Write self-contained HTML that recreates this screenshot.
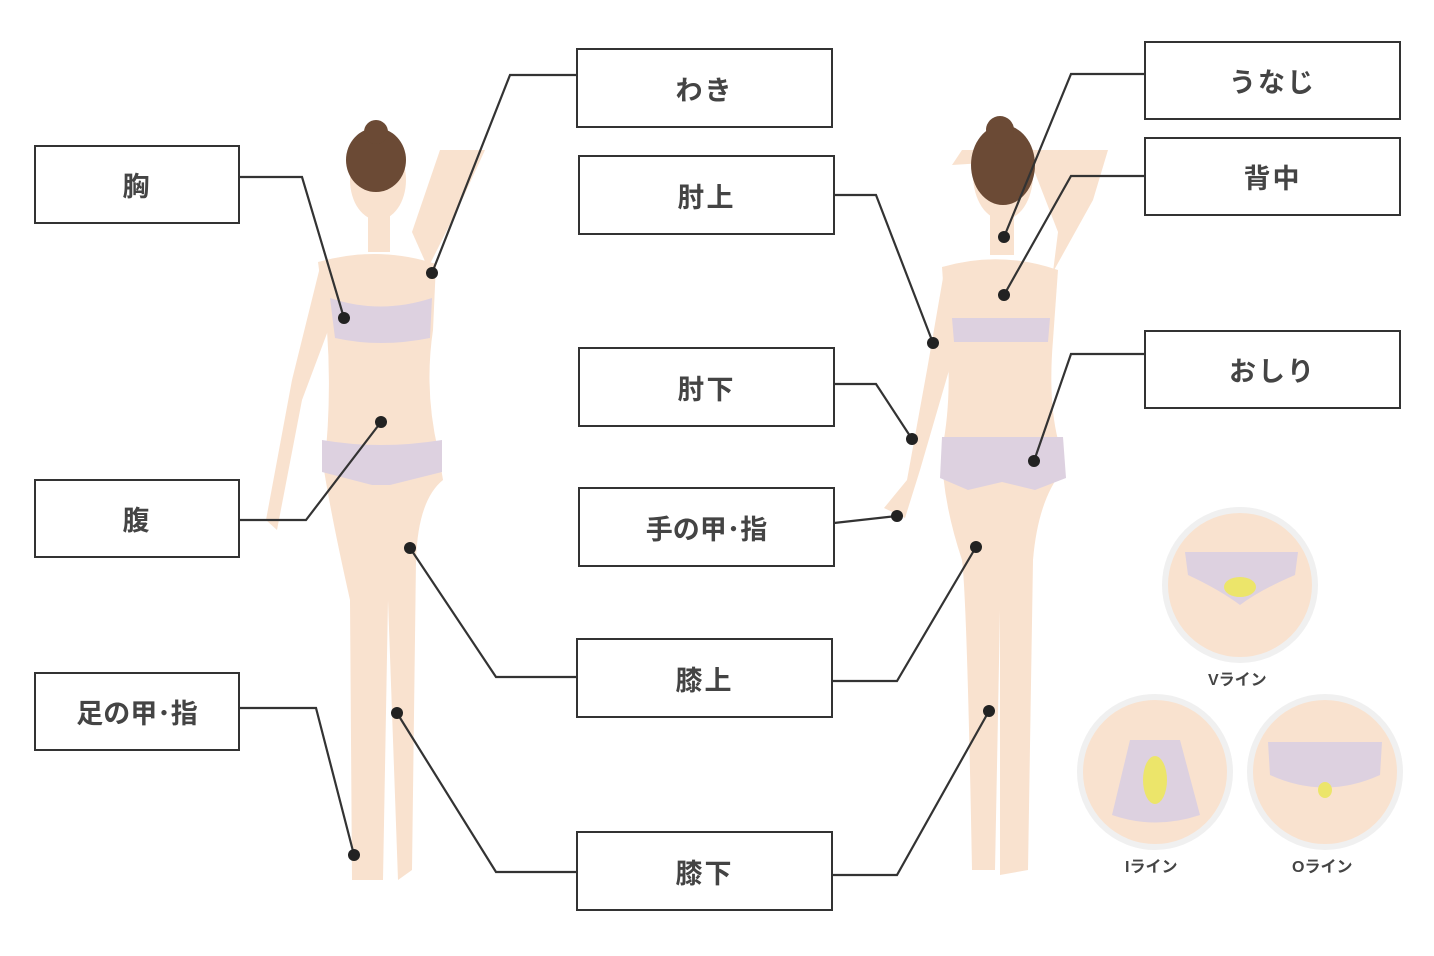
<!DOCTYPE html>
<html><head><meta charset="utf-8"><style>
html,body{margin:0;padding:0;background:#fff}
.box{position:absolute;border:2px solid #333;background:#fff;box-sizing:border-box;display:flex;align-items:center;justify-content:center;font:bold 27px "Liberation Sans","Noto Sans CJK JP",sans-serif;color:#444;letter-spacing:2px}
.box.t{letter-spacing:0}
.lbl{position:absolute;font:bold 16px "Liberation Sans","Noto Sans CJK JP",sans-serif;color:#444}
</style></head><body>
<div style="position:relative;width:1434px;height:956px;overflow:hidden">
<svg width="1434" height="956" style="position:absolute;left:0;top:0">
<g fill="#f9e2cf">
 <ellipse cx="378" cy="180" rx="28" ry="40"/>
 <rect x="368" y="212" width="22" height="40"/>
 <path d="M318 262 Q378 245 436 264 L433 330 Q424 390 438 450 L443 480 Q418 500 416 560 L412 870 L398 880 L388 600 L383 880 L352 880 L350 600 Q332 520 324 470 Q332 400 327 330 Z"/>
 <path d="M320 267 L292 380 L266 520 L277 530 L302 400 L332 320 Z"/>
 <path d="M428 268 L462 200 L485 150 L440 150 L412 232 Z"/>
 <ellipse cx="1003" cy="175" rx="30" ry="45"/>
 <rect x="990" y="210" width="24" height="45"/>
 <path d="M942 267 Q1000 250 1058 270 L1053 340 Q1048 400 1058 440 L1063 470 Q1038 500 1033 560 L1028 870 L1000 875 L1000 610 L995 870 L972 870 Q967 600 962 560 Q942 500 942 450 Q952 400 947 340 Z"/>
 <path d="M944 272 L927 370 L907 480 L884 508 L905 518 L920 470 L952 360 Z"/>
 <path d="M1053 272 L1093 200 L1108 150 L962 150 L952 165 L1030 160 L1058 232 Z"/>
 <circle cx="1240" cy="585" r="75"/>
 <circle cx="1155" cy="772" r="75"/>
 <circle cx="1325" cy="772" r="75"/>
</g>
<g><circle cx="1240" cy="585" r="75" fill="none" stroke="#f0f0f0" stroke-width="6"/><circle cx="1155" cy="772" r="75" fill="none" stroke="#f0f0f0" stroke-width="6"/><circle cx="1325" cy="772" r="75" fill="none" stroke="#f0f0f0" stroke-width="6"/></g>
<g fill="#6b4a35">
 <ellipse cx="376" cy="160" rx="30" ry="32"/>
 <circle cx="376" cy="132" r="12"/>
 <ellipse cx="1003" cy="165" rx="32" ry="40"/>
 <circle cx="1000" cy="130" r="14"/>
</g>
<g fill="#ddd1e0">
 <path d="M330 298 Q380 315 432 298 L430 338 Q380 348 335 338 Z"/>
 <path d="M322 440 Q380 450 442 440 L442 472 L390 485 L372 485 L322 472 Z"/>
 <path d="M952 318 L1050 318 L1048 342 L954 342 Z"/>
 <path d="M942 437 L1063 437 L1066 478 L1035 490 L1002 482 L968 490 L940 478 Z"/>
 <path d="M1185 552 L1298 552 L1295 575 Q1260 590 1240 605 Q1220 590 1188 575 Z"/>
 <path d="M1130 740 L1180 740 L1200 815 Q1155 830 1112 815 Z"/>
 <path d="M1268 742 L1382 742 L1380 775 Q1325 800 1270 775 Z"/>
</g>
<g fill="#ece56a"><ellipse cx="1240" cy="587" rx="16" ry="10"/><ellipse cx="1155" cy="780" rx="12" ry="24"/><ellipse cx="1325" cy="790" rx="7" ry="8"/></g>
<g fill="none" stroke="#333" stroke-width="2.2">
 <polyline points="576,75 510,75 432,273"/>
 <polyline points="239,177 302,177 344,318"/>
 <polyline points="834,195 876,195 933,343"/>
 <polyline points="834,384 876,384 912,439"/>
 <polyline points="239,520 306,520 381,422"/>
 <polyline points="834,523 897,516"/>
 <polyline points="239,708 316,708 354,855"/>
 <polyline points="576,677 496,677 410,548"/>
 <polyline points="576,872 496,872 397,713"/>
 <polyline points="832,681 897,681 976,547"/>
 <polyline points="832,875 897,875 989,711"/>
 <polyline points="1144,74 1071,74 1004,237"/>
 <polyline points="1144,176 1071,176 1004,295"/>
 <polyline points="1144,354 1071,354 1034,461"/>
</g>
<g fill="#222">
 <circle cx="432" cy="273" r="6"/><circle cx="344" cy="318" r="6"/><circle cx="933" cy="343" r="6"/>
 <circle cx="912" cy="439" r="6"/><circle cx="381" cy="422" r="6"/><circle cx="897" cy="516" r="6"/>
 <circle cx="354" cy="855" r="6"/><circle cx="410" cy="548" r="6"/><circle cx="397" cy="713" r="6"/>
 <circle cx="976" cy="547" r="6"/><circle cx="989" cy="711" r="6"/><circle cx="1004" cy="237" r="6"/>
 <circle cx="1004" cy="295" r="6"/><circle cx="1034" cy="461" r="6"/>
</g>
</svg>
<div class="box" style="left:576px;top:48px;width:257px;height:80px">わき</div>
<div class="box" style="left:34px;top:145px;width:206px;height:79px">胸</div>
<div class="box" style="left:578px;top:155px;width:257px;height:80px">肘上</div>
<div class="box" style="left:578px;top:347px;width:257px;height:80px">肘下</div>
<div class="box" style="left:34px;top:479px;width:206px;height:79px">腹</div>
<div class="box t" style="left:578px;top:487px;width:257px;height:80px">手の甲･指</div>
<div class="box t" style="left:34px;top:672px;width:206px;height:79px">足の甲･指</div>
<div class="box" style="left:576px;top:638px;width:257px;height:80px">膝上</div>
<div class="box" style="left:576px;top:831px;width:257px;height:80px">膝下</div>
<div class="box" style="left:1144px;top:41px;width:257px;height:79px">うなじ</div>
<div class="box" style="left:1144px;top:137px;width:257px;height:79px">背中</div>
<div class="box" style="left:1144px;top:330px;width:257px;height:79px">おしり</div>
<div class="lbl" style="left:1208px;top:666px">Vライン</div>
<div class="lbl" style="left:1125px;top:853px">Iライン</div>
<div class="lbl" style="left:1292px;top:853px">Oライン</div>
</div>
</body></html>
